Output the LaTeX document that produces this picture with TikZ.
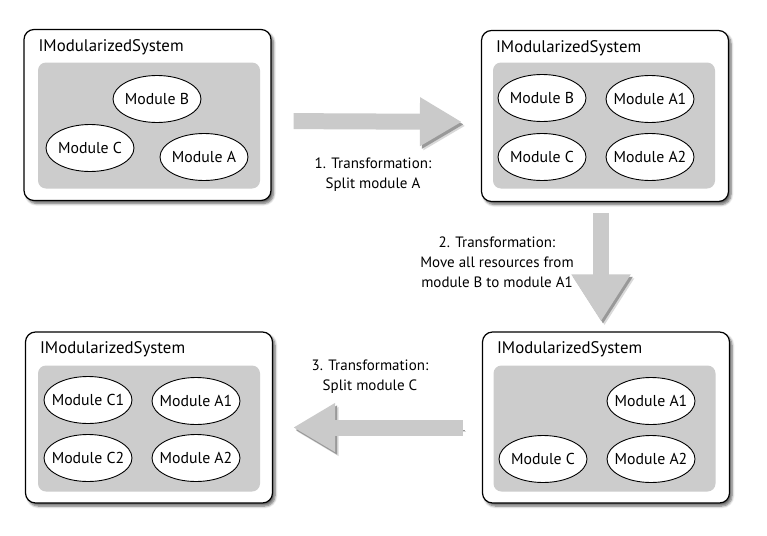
\documentclass[tikz,border=0pt]{standalone}
\usepackage{fontspec}
\setmainfont{PT Sans}
\usetikzlibrary{shapes.geometric,arrows.meta,shadows.blur,positioning}

\definecolor{areagray}{RGB}{204,204,204}
\definecolor{arrowgray}{RGB}{202,202,202}

\tikzset{
  sysbox/.style={draw, line width=1.2pt, rounded corners=10pt, fill=white,
    minimum width=247pt, minimum height=171pt,
    blur shadow={shadow xshift=2.5pt, shadow yshift=-3pt, shadow blur steps=6, shadow blur radius=2.5pt, shadow opacity=60}},
  modarea/.style={fill=areagray, rounded corners=8pt, minimum width=222pt, minimum height=126pt},
  systitle/.style={anchor=west, inner sep=0pt, font=\fontsize{16.8}{19}\selectfont},
  module/.style={ellipse, draw, line width=0.9pt, fill=white, minimum width=88pt, minimum height=47pt,
    inner xsep=-10pt, inner ysep=0pt, font=\fontsize{15.8}{17}\selectfont},
  transarrow/.style={draw=arrowgray, line width=16pt, -{Triangle[length=42pt,width=46pt]},
    preaction={draw=black!15, transform canvas={shift={(3.5pt,-4pt)}}},
    preaction={draw=black!40, transform canvas={shift={(2pt,-2.5pt)}}}},
  translabel/.style={align=center, inner sep=0pt, font=\fontsize{15}{20}\selectfont}
}

\begin{document}
\begin{tikzpicture}[x=1pt,y=-1pt]
  \useasboundingbox (0,0) rectangle (767,535);

  % start system
  \node[sysbox] (tl) at (147.5,115) {};
  \node[modarea] (tlarea) at (149,125.5) {};
  \node[systitle] (tltitle) at ([xshift=15pt,yshift=-18pt]tl.north west) {IModularizedSystem};
  \node[module] (tlb) at (157,99) {Module B};
  \node[module] (tlc) at (90,148) {Module C};
  \node[module] (tla) at (204,157) {Module A};

  % after step 1
  \node[sysbox] (tr) at (605,116) {};
  \node[modarea] (trarea) at (604,125.5) {};
  \node[systitle] (trtitle) at ([xshift=15pt,yshift=-18pt]tr.north west) {IModularizedSystem};
  \node[module] (trb) at (542,98) {Module B};
  \node[module] (tra1) at (650,99) {Module A1};
  \node[module] (trc) at (542,157) {Module C};
  \node[module] (tra2) at (650,157) {Module A2};

  % after step 2
  \node[sysbox] (br) at (606,417.5) {};
  \node[modarea] (brarea) at (604.5,428.5) {};
  \node[systitle] (brtitle) at ([xshift=15pt,yshift=-18pt]br.north west) {IModularizedSystem};
  \node[module] (bra1) at (651,401) {Module A1};
  \node[module] (brc) at (543,459) {Module C};
  \node[module] (bra2) at (651,459) {Module A2};

  % after step 3
  \node[sysbox] (bl) at (149,417.5) {};
  \node[modarea] (blarea) at (149,428.5) {};
  \node[systitle] (bltitle) at ([xshift=15pt,yshift=-18pt]bl.north west) {IModularizedSystem};
  \node[module] (blc1) at (88,400) {Module C1};
  \node[module] (bla1) at (196,401) {Module A1};
  \node[module] (blc2) at (88,458) {Module C2};
  \node[module] (bla2) at (196,458) {Module A2};

  % transformations
  \draw[transarrow, shorten <=22pt, shorten >=19pt] ([yshift=-6pt]tl.east) -- ([yshift=-6pt]tr.west);
  \draw[transarrow, shorten <=11pt, shorten >=10pt, -{Triangle[length=47pt,width=56pt]}]
    ([xshift=-4pt]tr.south) -- ([xshift=-4pt]tr.south |- br.north);
  \draw[transarrow, shorten <=19pt, shorten >=20pt] ([yshift=-10pt]br.west) -- ([yshift=-10pt]bl.east);

  \node[translabel] (lab1) at (373,175) {1. Transformation:\\Split module A};
  \node[translabel] (lab2) at (497,262) {2. Transformation:\\Move all resources from\\module B to module A1};
  \node[translabel] (lab3) at (370,377) {3. Transformation:\\Split module C};
\end{tikzpicture}
\end{document}
